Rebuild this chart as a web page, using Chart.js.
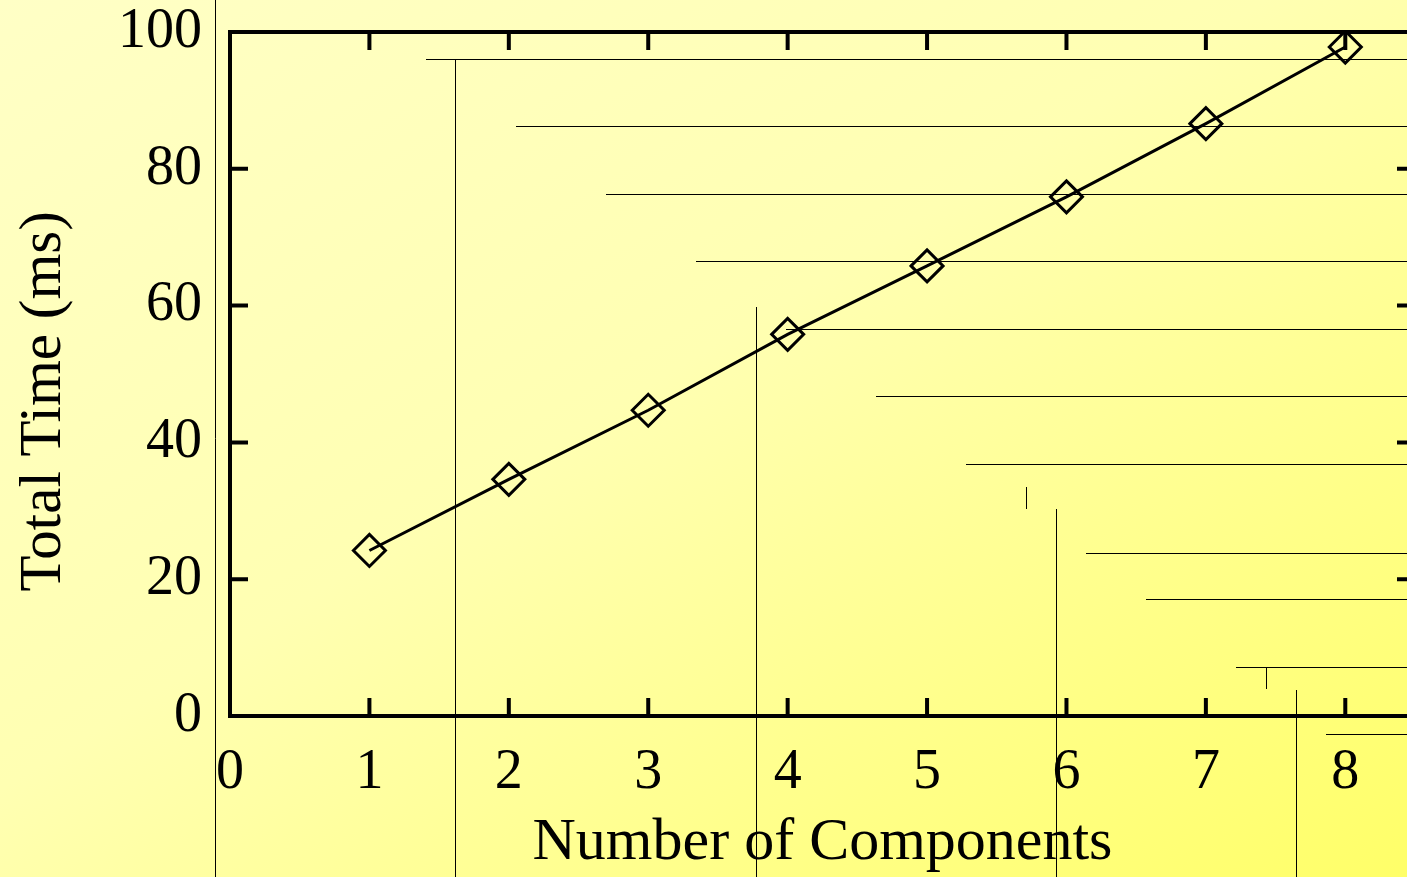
<!DOCTYPE html>
<html>
<head>
<meta charset="utf-8">
<script src="https://cdn.jsdelivr.net/npm/chart.js@4/dist/chart.umd.min.js"></script>
<style>
  html, body {
    margin: 0;
    padding: 0;
    width: 1407px;
    height: 877px;
    overflow: hidden;
    background: linear-gradient(to bottom right, #ffffc6 0%, #ffffb2 45%, #ffff68 100%);
  }
  #wrap { position: relative; width: 1440px; height: 877px; }
</style>
</head>
<body>
<div id="wrap"><canvas id="timeChart" width="1440" height="877"></canvas></div>
<script>
// data
const components = [1, 2, 3, 4, 5, 6, 7, 8];
const totalTime = [24.2, 34.6, 44.7, 55.8, 65.8, 75.9, 86.6, 97.8];
const xTicks = [0, 1, 2, 3, 4, 5, 6, 7, 8];
const yTicks = [0, 20, 40, 60, 80, 100];
const yTitle = 'Total Time (ms)';

// thin stray rules in the backdrop of the original slide (page pixels)
const backdropH = [
  [426, 59], [516, 126], [606, 194], [696, 261], [786, 329], [876, 396],
  [966, 464], [1086, 553], [1146, 599], [1236, 667], [1326, 734]
];
const backdropV = [
  [215, 0, 877], [455, 59, 877], [756, 307, 877], [1026, 487, 509],
  [1056, 509, 877], [1266, 667, 689], [1296, 690, 877]
];

const serif = "'Liberation Serif', 'Times New Roman', serif";

const backdropPlugin = {
  id: 'backdrop',
  beforeDatasetsDraw(chart) {
    const ctx = chart.ctx;
    ctx.save();
    ctx.strokeStyle = '#000';
    ctx.lineWidth = 1;
    ctx.beginPath();
    backdropH.forEach(([x, y]) => {
      ctx.moveTo(x, y + 0.5);
      ctx.lineTo(chart.width, y + 0.5);
    });
    backdropV.forEach(([x, y1, y2]) => {
      ctx.moveTo(x + 0.5, y1);
      ctx.lineTo(x + 0.5, y2);
    });
    ctx.stroke();
    ctx.restore();
  }
};

// gnuplot style frame with inward ticks on all four sides
const framePlugin = {
  id: 'frame',
  afterDraw(chart) {
    const ctx = chart.ctx;
    const a = chart.chartArea;
    const xs = chart.scales.x;
    const ys = chart.scales.y;
    const len = 18;
    ctx.save();
    ctx.strokeStyle = '#000';
    ctx.lineWidth = 4;
    ctx.strokeRect(a.left, a.top, a.right - a.left, a.bottom - a.top);
    ctx.beginPath();
    xTicks.forEach(v => {
      if (v === 0) return;
      const px = xs.getPixelForValue(v);
      ctx.moveTo(px, a.bottom);
      ctx.lineTo(px, a.bottom - len);
      ctx.moveTo(px, a.top);
      ctx.lineTo(px, a.top + len);
    });
    yTicks.forEach(v => {
      if (v === 0 || v === 100) return;
      const py = ys.getPixelForValue(v);
      ctx.moveTo(a.left, py);
      ctx.lineTo(a.left + len, py);
      ctx.moveTo(a.right, py);
      ctx.lineTo(a.right - len, py);
    });
    ctx.stroke();

    // y title sits a little below the middle of the axis in the original
    ctx.fillStyle = '#000';
    ctx.font = '59px ' + serif;
    ctx.textAlign = 'center';
    ctx.textBaseline = 'middle';
    ctx.translate(ys.left + 44, ys.getPixelForValue(46));
    ctx.rotate(-Math.PI / 2);
    ctx.fillText(yTitle, 0, 0);
    ctx.restore();
  }
};

new Chart(document.getElementById('timeChart').getContext('2d'), {
  type: 'line',
  data: {
    datasets: [{
      data: components.map((c, i) => ({ x: c, y: totalTime[i] })),
      borderColor: '#000',
      borderWidth: 3,
      backgroundColor: 'rgba(0,0,0,0)',
      pointStyle: 'rectRot',
      pointRadius: 16,
      pointBorderWidth: 3,
      pointBorderColor: '#000',
      pointBackgroundColor: 'rgba(0,0,0,0)',
      tension: 0,
      fill: false
    }]
  },
  options: {
    responsive: false,
    animation: false,
    layout: { padding: { top: 32, right: 25, left: 0, bottom: 0 } },
    plugins: {
      legend: { display: false },
      tooltip: { enabled: false }
    },
    scales: {
      x: {
        type: 'linear',
        min: 0,
        max: 8.5,
        afterFit(scale) {
          scale.height = 161;
          scale.paddingLeft = 0;
          scale.paddingRight = 0;
        },
        afterBuildTicks(scale) { scale.ticks = xTicks.map(v => ({ value: v })); },
        grid: { display: false, drawTicks: false },
        border: { display: false },
        ticks: {
          color: '#000',
          padding: 24,
          font: { family: serif, size: 56 }
        },
        title: {
          display: true,
          text: 'Number of Components',
          color: '#000',
          font: { family: serif, size: 60, lineHeight: 1 },
          padding: { top: 0, bottom: 4 }
        }
      },
      y: {
        min: 0,
        max: 100,
        afterFit(scale) {
          scale.width = 230;
          scale.paddingTop = 0;
          scale.paddingBottom = 0;
        },
        afterBuildTicks(scale) { scale.ticks = yTicks.map(v => ({ value: v })); },
        grid: { display: false, drawTicks: false },
        border: { display: false },
        ticks: {
          color: '#000',
          padding: 28,
          font: { family: serif, size: 56 }
        },
        title: { display: false }
      }
    }
  },
  plugins: [backdropPlugin, framePlugin]
});
</script>
</body>
</html>
